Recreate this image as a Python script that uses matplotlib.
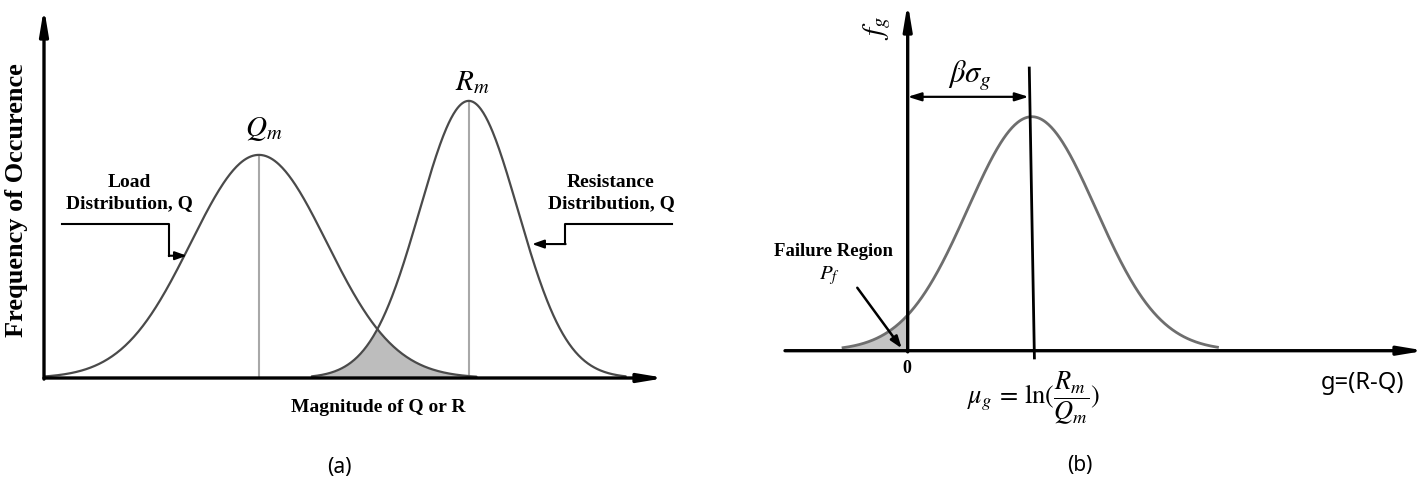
import numpy as np
import matplotlib
matplotlib.use("Agg")
import matplotlib.pyplot as plt

plt.rcParams['mathtext.fontset'] = 'stix'

# ---- data ----
# panel (a): load Q and resistance R
dist_names = ['Q', 'R']
dist_means = [3.46, 6.84]
dist_sds = [1.095, 0.79]
dist_peaks = [0.603, 0.749]
# panel (b): safety margin g = R - Q
g_mean = 1.94
g_sd = 1.0
g_peak = 1.0

W, H = 1428, 484
fig = plt.figure(figsize=(W / 100, H / 100), dpi=100)


def px_axes(left, top, right, bottom):
    return fig.add_axes([left / W, 1 - bottom / H, (right - left) / W, (bottom - top) / H])


def gauss(x, m, s, p):
    return p * np.exp(-0.5 * ((x - m) / s) ** 2)


serif_b = dict(family='Liberation Serif', weight='bold')
axis_arrow = dict(arrowstyle='-|>,head_length=1.5,head_width=0.25', lw=2.4, color='black',
                  shrinkA=0, shrinkB=0)
small_arrow = dict(arrowstyle='-|>,head_length=0.7,head_width=0.25', lw=1.5, color='black',
                   shrinkA=0, shrinkB=0)

# ================= panel (a) =================
ax = px_axes(44, 8, 665, 378)
ax.set_xlim(0, 10)
ax.set_ylim(0, 1)
ax.axis('off')

for m, s, p in zip(dist_means, dist_sds, dist_peaks):
    x = np.linspace(m - 3.2 * s, m + 3.2 * s, 400)
    ax.plot(x, gauss(x, m, s, p), color='#4a4a4a', lw=1.6, zorder=3, solid_capstyle='round')
    ax.vlines(m, 0, p, color='#a8a8a8', lw=1.5, zorder=2)

# overlap region
xo = np.linspace(dist_means[1] - 3.2 * dist_sds[1], dist_means[0] + 3.2 * dist_sds[0], 400)
yo = np.minimum(gauss(xo, dist_means[0], dist_sds[0], dist_peaks[0]),
                gauss(xo, dist_means[1], dist_sds[1], dist_peaks[1]))
ax.fill_between(xo, 0, yo, color='#bdbdbd', zorder=1, lw=0)

# axes with arrows
ax.annotate('', xy=(10, 0), xytext=(0, 0), arrowprops=axis_arrow, zorder=5, annotation_clip=False)
ax.annotate('', xy=(0, 1.0), xytext=(0, -0.003), arrowprops=axis_arrow, zorder=5, annotation_clip=False)

ax.text(3.53, 0.672, r'$Q_m$', fontsize=21, ha='center', va='center')
ax.text(6.89, 0.80, r'$R_m$', fontsize=21, ha='center', va='center')

ax.text(-0.45, 0.481, 'Frequency of Occurence', rotation=90, fontsize=19, ha='center', va='center',
        clip_on=False, **serif_b)
ax.text(5.38, -0.081, 'Magnitude of Q or R', fontsize=14, ha='center', va='center',
        clip_on=False, **serif_b)

ax.text(1.38, 0.5, 'Load\nDistribution, Q', fontsize=14, ha='center', va='center',
        linespacing=1.25, **serif_b)
ax.text(9.13, 0.5, 'Resistance\nDistribution, Q', fontsize=14, ha='center', va='center',
        linespacing=1.25, clip_on=False, **serif_b)

# leader lines
ax.plot([0.29, 2.02, 2.02], [0.416, 0.416, 0.3305], color='black', lw=1.5, clip_on=False)
ax.annotate('', xy=(2.30, 0.3305), xytext=(2.01, 0.3305), arrowprops=small_arrow)
ax.plot([10.11, 8.39, 8.39], [0.416, 0.416, 0.362], color='black', lw=1.5, clip_on=False)
ax.annotate('', xy=(7.86, 0.362), xytext=(8.40, 0.362), arrowprops=small_arrow)

fig.text(339 / W, 1 - 467 / H, '(a)', fontsize=15, family='Noto Sans', ha='center', va='center')

# ================= panel (b) =================
bx = px_axes(785, 3, 1425, 350.7)
bx.set_xlim(-1.917, 8.083)
bx.set_ylim(0, 1.486)
bx.axis('off')

xg = np.linspace(g_mean - 2.95 * g_sd, g_mean + 2.9 * g_sd, 400)
bx.plot(xg, gauss(xg, g_mean, g_sd, g_peak), color='#6e6e6e', lw=2.0, zorder=3)
xf = np.linspace(g_mean - 2.95 * g_sd, 0, 200)
bx.fill_between(xf, 0, gauss(xf, g_mean, g_sd, g_peak), color='#c4c4c4', lw=0, zorder=1)

bx.annotate('', xy=(8.083, 0), xytext=(-1.917, 0), arrowprops=axis_arrow, zorder=5, annotation_clip=False)
bx.annotate('', xy=(0, 1.486), xytext=(0, -0.005), arrowprops=axis_arrow, zorder=5, annotation_clip=False)

# mean line and beta*sigma span
bx.plot([g_mean - 0.04, g_mean + 0.04], [1.208, -0.031], color='black', lw=2.0, zorder=4, clip_on=False)
bx.annotate('', xy=(g_mean - 0.05, 1.085), xytext=(0, 1.085),
            arrowprops=dict(arrowstyle='<|-|>,head_length=0.8,head_width=0.25', lw=1.6, color='black',
                            shrinkA=0, shrinkB=0))
bx.text(0.97, 1.175, r'$\beta\sigma_g$', fontsize=22, ha='center', va='center')
bx.text(-0.48, 1.379, r'$f_g$', fontsize=21, rotation=90, ha='center', va='center')

bx.text(-1.167, 0.424, 'Failure Region', fontsize=13.5, ha='center', va='center', clip_on=False, **serif_b)
bx.text(-1.215, 0.323, r'$P_f$', fontsize=15, ha='center', va='center')
bx.annotate('', xy=(-0.094, 0.0103), xytext=(-0.7875, 0.269),
            arrowprops=dict(arrowstyle='-|>,head_length=0.7,head_width=0.25', lw=1.8, color='black',
                            shrinkA=0, shrinkB=0))
bx.text(-0.016, -0.075, '0', fontsize=13, ha='center', va='center', clip_on=False, **serif_b)

bx.text(1.958, -0.205, r'$\mu_g\,=\,\ln(\dfrac{R_m}{Q_m})$', fontsize=19, ha='center', va='center',
        clip_on=False)
bx.text(7.1, -0.138, 'g=(R-Q)', fontsize=17, family='Noto Sans', ha='center', va='center', clip_on=False)

fig.text(1080 / W, 1 - 465 / H, '(b)', fontsize=15, family='Noto Sans', ha='center', va='center')

fig.savefig('out.png', dpi=100)
